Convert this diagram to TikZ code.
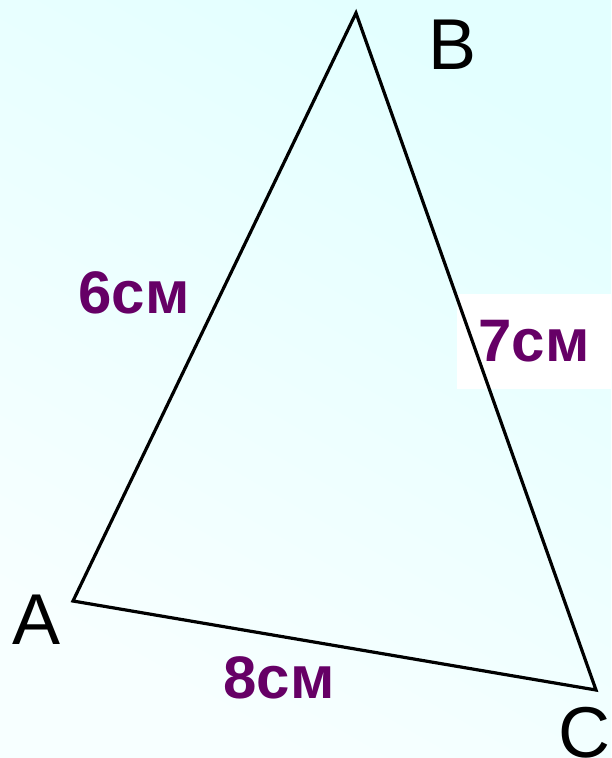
\documentclass[tikz,border=0pt]{standalone}
\usepackage{fontspec}
\setmainfont{Liberation Sans}
\definecolor{plum}{RGB}{102,0,102}
\begin{document}
\begin{tikzpicture}[x=1pt, y=-1pt,
    side/.style={text=plum, font=\fontsize{60}{60}\selectfont\bfseries},
    vertex/.style={font=\fontsize{72}{72}\selectfont}]
    % Background
    \shade[top color=cyan!11, bottom color=cyan!3, shading angle=-30] (0,0) rectangle (611,758);
    \useasboundingbox (0,0) rectangle (611,758);

    % Vertices
    \coordinate (A) at (73,601);
    \coordinate (B) at (356,13);
    \coordinate (C) at (596,690);

    % Side lengths
    \node[side, fill=white, minimum width=154pt, minimum height=95pt, inner sep=0pt] (bc) at (534,341.5) {7см};
    \node[side] (ab) at (134,293) {6см};
    \node[side] (ac) at (279,678) {8см};

    \draw[line width=3.2pt, line join=miter] (A) -- (B) -- (C) -- cycle;

    \node[vertex] (labA) at (37,620) {A};
    \node[vertex] (labB) at (453,45) {B};
    \node[vertex] (labC) at (584,733) {C};
\end{tikzpicture}
\end{document}
